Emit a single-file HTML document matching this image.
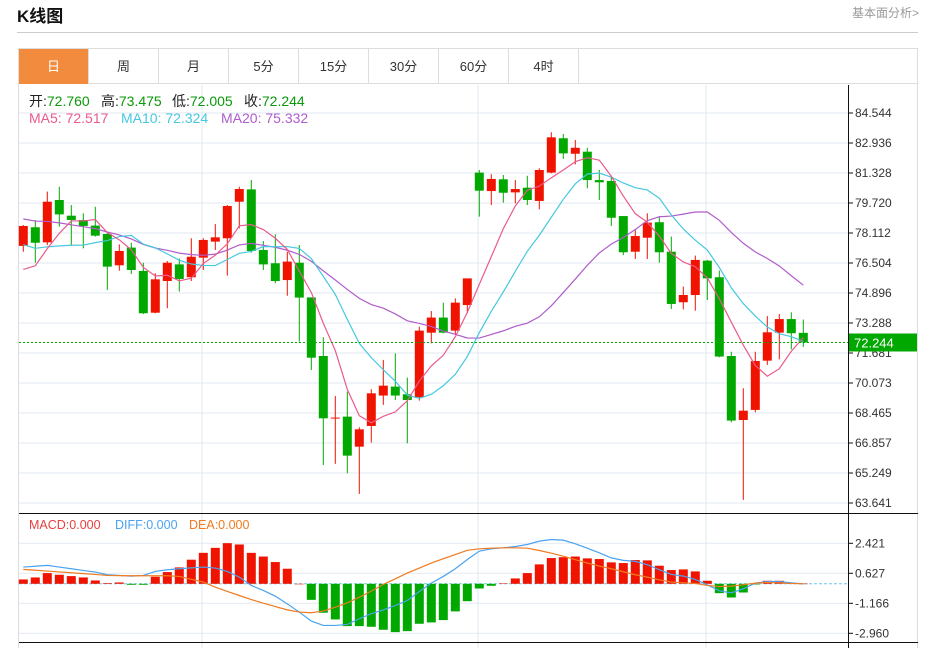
<!DOCTYPE html>
<html><head><meta charset="utf-8">
<style>
body{margin:0;width:928px;height:648px;overflow:hidden;background:#fff;font-family:"Liberation Sans","Noto Sans CJK SC",sans-serif;}
#title{position:absolute;left:17px;top:2px;font-size:17px;font-weight:bold;color:#111;}
#more{position:absolute;left:852px;top:4px;font-size:12px;color:#999;}
#rule{position:absolute;left:17px;top:32px;width:901px;height:1px;background:#ccc;}
#tabs{position:absolute;left:18px;top:48px;width:900px;height:36px;border:1px solid #ddd;box-sizing:border-box;border-bottom:1px solid #ddd;}
.tab{position:absolute;top:0;height:35px;width:70px;line-height:35px;text-align:center;font-size:13px;color:#333;border-right:1px solid #ddd;box-sizing:border-box;}
.tab.on{background:#f38b3f;color:#fff;}
svg{position:absolute;left:0;top:0;}
</style></head><body>
<div id="title">K线图</div>
<div id="more">基本面分析&gt;</div>
<div id="rule"></div>
<div id="tabs">
<div class="tab on" style="left:0">日</div>
<div class="tab" style="left:70px">周</div>
<div class="tab" style="left:140px">月</div>
<div class="tab" style="left:210px">5分</div>
<div class="tab" style="left:280px">15分</div>
<div class="tab" style="left:350px">30分</div>
<div class="tab" style="left:420px">60分</div>
<div class="tab" style="left:490px">4时</div>
</div>
<svg id="chart" width="928" height="648"></svg>
<script>
const opens=[77.42,78.42,77.61,79.88,79.04,78.81,78.51,78.06,76.38,77.33,76.08,73.84,75.54,76.43,75.74,76.79,77.65,77.83,79.79,80.45,77.20,76.49,75.59,76.52,74.66,71.52,68.18,68.27,66.66,67.77,69.40,69.88,69.47,69.31,72.77,73.58,72.88,74.25,81.35,80.36,80.99,80.29,80.54,79.83,81.35,83.19,82.36,82.47,80.95,80.90,79.02,77.11,77.86,78.69,77.11,74.40,74.79,76.63,75.74,71.52,68.09,68.63,71.27,72.77,73.50,72.76];
const highs=[78.54,78.81,80.33,80.59,79.61,79.17,79.52,78.18,77.50,77.59,76.52,75.95,76.61,76.75,77.83,77.83,78.59,79.61,80.59,80.95,77.68,78.04,77.11,77.47,74.66,72.52,69.38,69.61,67.70,69.74,71.31,71.66,70.36,73.09,73.93,74.38,74.61,75.68,81.49,81.27,81.22,80.95,81.18,81.58,83.51,83.42,83.10,82.68,81.49,81.13,79.02,78.31,79.17,78.99,77.92,75.24,76.90,76.67,76.10,71.75,69.79,71.75,73.66,73.77,73.86,73.475];
const lows=[77.11,76.52,77.47,78.45,77.47,77.29,77.92,75.06,76.09,75.92,73.77,73.81,74.08,74.97,75.54,76.13,77.20,75.83,78.36,77.06,76.13,75.42,74.75,72.29,70.77,65.68,65.74,65.23,64.13,66.88,68.90,69.16,66.84,69.13,72.20,72.74,72.65,73.81,78.99,79.61,79.74,79.70,79.61,79.38,81.31,82.08,81.79,80.51,79.88,78.49,76.93,76.72,76.72,76.52,74.04,74.02,73.95,74.52,71.45,67.97,63.81,68.50,71.04,71.34,71.88,72.005];
const closes=[78.49,77.59,79.79,79.11,78.81,78.49,77.97,76.31,77.15,76.13,73.81,75.63,76.52,75.65,76.84,77.74,77.88,79.56,80.47,77.15,76.43,75.54,76.58,74.65,71.43,68.18,68.22,66.18,67.59,69.52,69.93,69.40,69.16,72.88,73.58,72.77,74.38,75.68,80.38,81.01,80.27,80.47,79.88,81.49,83.24,82.38,82.68,80.95,80.83,78.93,77.08,77.95,78.67,77.08,74.31,74.79,76.67,75.68,71.49,68.06,68.59,71.25,72.79,73.50,72.74,72.244];
const priorCloses=[79.8,80.2,80.6,80.9,80.5,80.1,79.9,80.3,80.4,79.7,79.5,79.0,78.6,78.5,78.45,76.6,75.2,75.0,75.5];
const priceTicks=[84.544,82.936,81.328,79.720,78.112,76.504,74.896,73.288,71.681,70.073,68.465,66.857,65.249,63.641];
const macdBars=[0.26,0.38,0.64,0.54,0.46,0.38,0.20,0.04,0.08,-0.06,-0.06,0.42,0.70,0.98,1.44,1.85,2.15,2.43,2.35,1.85,1.63,1.30,0.90,0,-0.96,-1.73,-2.13,-2.53,-2.53,-2.57,-2.75,-2.89,-2.83,-2.39,-2.31,-2.17,-1.65,-1.04,-0.28,-0.12,0.02,0.32,0.64,1.16,1.54,1.59,1.63,1.52,1.48,1.28,1.24,1.42,1.40,1.08,0.82,0.86,0.74,0.18,-0.56,-0.82,-0.52,-0.04,0.18,0.18,0.04,0.01];
const diffVals=[1.00,1.05,1.10,1.00,0.90,0.80,0.70,0.54,0.50,0.46,0.50,0.74,0.84,0.90,0.95,1.00,0.94,0.74,0.40,-0.10,-0.40,-0.74,-1.20,-1.69,-2.23,-2.49,-2.49,-2.43,-2.09,-1.79,-1.56,-1.30,-1.00,-0.46,0.04,0.44,0.90,1.45,1.95,2.09,2.15,2.23,2.35,2.55,2.65,2.61,2.39,2.13,1.85,1.55,1.40,1.34,1.14,0.84,0.56,0.46,0.26,-0.06,-0.42,-0.54,-0.30,0.04,0.14,0.14,0.06,0];
const deaVals=[0.86,0.81,0.76,0.71,0.66,0.61,0.56,0.50,0.49,0.48,0.48,0.48,0.48,0.44,0.27,0.10,-0.20,-0.46,-0.70,-0.94,-1.16,-1.36,-1.56,-1.69,-1.73,-1.63,-1.40,-1.14,-0.80,-0.44,-0.04,0.30,0.64,0.94,1.24,1.50,1.75,2.00,2.09,2.13,2.15,2.15,2.13,1.99,1.83,1.65,1.44,1.24,1.06,0.90,0.72,0.54,0.40,0.24,0.10,0.06,0.02,-0.10,-0.16,-0.14,-0.06,0.04,0.08,0.06,0.02,0];
const macdTicks=[2.421,0.627,-1.166,-2.960];

const NS='http://www.w3.org/2000/svg';
const svg=document.getElementById('chart');
function el(tag,attrs,parent){const e=document.createElementNS(NS,tag);for(const k in attrs)e.setAttribute(k,attrs[k]);(parent||svg).appendChild(e);return e;}
const pTop=priceTicks[0],pBot=priceTicks[priceTicks.length-1];
function py(p){return 113+(pTop-p)*(390/(pTop-pBot));}
const mTop=macdTicks[0],mBot=macdTicks[macdTicks.length-1];
function my(v){return 543.3+(mTop-v)*(90/(mTop-mBot));}
function cx(i){return 23.3+12*i;}
const RED='#f01400',GREEN='#00a800';

let g=el('g',{});

priceTicks.forEach(t=>{el('line',{x1:19,x2:848,y1:py(t),y2:py(t),stroke:'#e2eaf0','stroke-width':1},g);});
macdTicks.forEach(t=>{el('line',{x1:19,x2:848,y1:my(t),y2:my(t),stroke:'#e2eaf0','stroke-width':1},g);});
[202,478,706].forEach(x=>el('line',{x1:x,x2:x,y1:85,y2:648,stroke:'#dde8f0','stroke-width':1},g));
el('line',{x1:18.5,x2:18.5,y1:84,y2:648,stroke:'#ddd'},g);
el('line',{x1:917.5,x2:917.5,y1:84,y2:648,stroke:'#ddd'},g);
el('line',{x1:19,x2:918,y1:513.5,y2:513.5,stroke:'#111'},g);
el('line',{x1:19,x2:918,y1:642.5,y2:642.5,stroke:'#111'},g);
el('line',{x1:848.5,x2:848.5,y1:85,y2:648,stroke:'#111'},g);

let ax=el('g',{'font-size':12,fill:'#333','font-family':'Liberation Sans, sans-serif'});

priceTicks.forEach(t=>{el('line',{x1:848,x2:853,y1:py(t),y2:py(t),stroke:'#111'},ax);const tx=el('text',{x:855,y:py(t)+4},ax);tx.textContent=t.toFixed(3);});
let ax2=el('g',{'font-size':12,fill:'#333'});

macdTicks.forEach(t=>{el('line',{x1:848,x2:853,y1:my(t),y2:my(t),stroke:'#111'},ax2);const tx=el('text',{x:855,y:my(t)+4},ax2);tx.textContent=t.toFixed(3);});

let cg=el('g',{});

for(let i=0;i<opens.length;i++){
  const up=closes[i]>=opens[i];const c=up?RED:GREEN;const x=cx(i);
  const c1=el('g',{},cg);
  
  
  el('line',{x1:x,x2:x,y1:py(highs[i]),y2:py(lows[i]),stroke:c,'stroke-width':1},c1);
  const t=py(Math.max(opens[i],closes[i])),b=py(Math.min(opens[i],closes[i]));
  el('rect',{x:x-4.5,y:t,width:9,height:Math.max(1,b-t),fill:c},c1);
}
const all=priorCloses.concat(closes);
function ma(n){const out=[];for(let i=0;i<closes.length;i++){const j=i+priorCloses.length;let s=0;for(let k=j-n+1;k<=j;k++)s+=all[k];out.push(s/n);}return out;}
[[20,'#b05ccc','ma20-line'],[10,'#45c8e0','ma10-line'],[5,'#ea5a8c','ma5-line']].forEach(([n,col,name])=>{
  const v=ma(n);const l=el('polyline',{points:v.map((p,i)=>cx(i)+','+py(p)).join(' '),fill:'none',stroke:col,'stroke-width':1.2});
  
  
});
const last=closes[closes.length-1];
const pl=el('line',{x1:19,x2:848,y1:py(last),y2:py(last),stroke:GREEN,'stroke-dasharray':'2,2'});

const lb=el('rect',{x:849,y:py(last)-9,width:68,height:18,fill:GREEN});

const lt=el('text',{x:854,y:py(last)+5,fill:'#fff','font-size':13});lt.textContent=last.toFixed(3);

const zl=el('line',{x1:19,x2:848,y1:my(0),y2:my(0),stroke:'#6cc8e8','stroke-dasharray':'3,2'});

let mg=el('g',{});

macdBars.forEach((v,i)=>{const y0=my(0),y1=my(v);const r=el('rect',{x:cx(i)-4.5,y:Math.min(y0,y1),width:9,height:Math.max(0.5,Math.abs(y1-y0)),fill:v>=0?RED:GREEN},mg);
  
  
});
[[diffVals,'#4aa3f0','diff-line'],[deaVals,'#f07a20','dea-line']].forEach(([v,col,name])=>{
  const l=el('polyline',{points:v.map((p,i)=>cx(i)+','+my(p)).join(' '),fill:'none',stroke:col,'stroke-width':1.2});
  
  
});
</script>
<svg width="928" height="648" style="pointer-events:none">
<g font-size="14" fill="#222">
<text x="29" y="106">开:<tspan fill="#0a9a0a">72.760</tspan></text>
<text x="101" y="106">高:<tspan fill="#0a9a0a">73.475</tspan></text>
<text x="172" y="106">低:<tspan fill="#0a9a0a">72.005</tspan></text>
<text x="244" y="106">收:<tspan fill="#0a9a0a">72.244</tspan></text>
</g>
<g font-size="14">
<text x="29" y="123" fill="#ea5a8c">MA5: 72.517</text>
<text x="121" y="123" fill="#45c8e0">MA10: 72.324</text>
<text x="221" y="123" fill="#b05ccc">MA20: 75.332</text>
</g>
<g font-size="12.5">
<text x="29" y="529" fill="#e84040">MACD:0.000</text>
<text x="115" y="529" fill="#4aa3f0">DIFF:0.000</text>
<text x="189" y="529" fill="#f07a20">DEA:0.000</text>
</g>
</svg>
</body></html>
